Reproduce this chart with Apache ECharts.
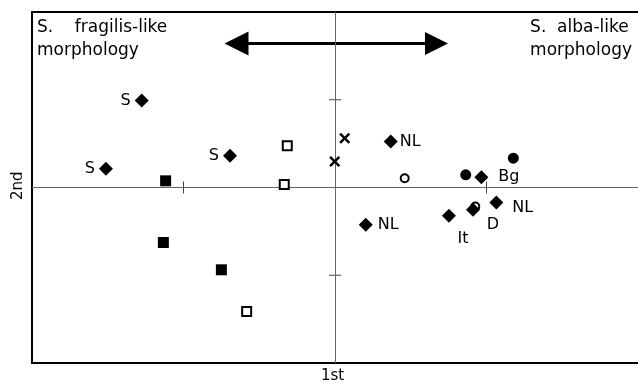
<!DOCTYPE html>
<html><head><meta charset="utf-8">
<script src="https://cdn.jsdelivr.net/npm/echarts@6/dist/echarts.min.js"></script>
<style>html,body{margin:0;padding:0;background:#fff}#c{width:638px;height:384px}</style>
</head><body><div id="c"></div>
<script>
// Data (ordination scores, axis units)
const diamondX = [-1.276, -1.512, -0.693, 0.368, 0.966, 0.203, 0.752, 0.911, 1.065];
const diamondY = [0.991, 0.213, 0.361, 0.524, 0.117, -0.425, -0.323, -0.254, -0.171];
const diamondLabels = ['S', 'S', 'S', 'NL', 'Bg', 'NL', 'It', 'D', 'NL'];
const filledCircleX = [1.177, 0.863];
const filledCircleY = [0.334, 0.145];
const openCircleX = [0.46, 0.926];
const openCircleY = [0.106, -0.217];
const crossX = [0.064, -0.002];
const crossY = [0.562, 0.296];
const filledSquareX = [-1.118, -1.133, -0.750];
const filledSquareY = [0.076, -0.627, -0.938];
const openSquareX = [-0.315, -0.335, -0.583];
const openSquareY = [0.475, 0.034, -1.413];
const tickValues = [-1, 1];
const arrowX = [-0.650, 0.670];
const arrowY = 1.64;
const xName = '1st', yName = '2nd';
const leftNote = ['S.    fragilis-like', 'morphology'];
const rightNote = ['S.  alba-like', 'morphology'];

// label placement (style only)
const labelStyle = [
  {position: 'left', distance: 4},
  {position: 'left', distance: 4},
  {position: 'left', distance: 4},
  {position: 'right', distance: 2},
  {position: 'right', distance: 10},
  {position: 'right', distance: 5},
  {position: 'bottom', offset: [14, 6], distance: 2},
  {position: 'bottom', offset: [20, -2], distance: 2},
  {position: 'right', distance: 9, offset: [0, 5]}
];

const zip = (xs, ys) => xs.map((x, i) => [x, ys[i]]);
const FONT = 'DejaVu Sans';
const crossPath = 'path://M0,1.6 L1.6,0 L5,3.4 L8.4,0 L10,1.6 L6.6,5 L10,8.4 L8.4,10 L5,6.6 L1.6,10 L0,8.4 L3.4,5 Z';
const solid = {color: '#000', opacity: 1};
const hollow = {color: '#fff', borderColor: '#000', borderWidth: 2, opacity: 1};
const frameAxis = {type: 'value', min: -2, max: 2,
  axisLine: {show: true, onZero: false, lineStyle: {color: '#000', width: 2}},
  axisTick: {show: false}, axisLabel: {show: false}, splitLine: {show: false}};

const chart = echarts.init(document.getElementById('c'), null, {renderer: 'canvas'});
chart.setOption({
  animation: false,
  backgroundColor: '#fff',
  grid: {left: 32, right: 0, top: 12, bottom: 21, show: false},
  xAxis: [Object.assign({position: 'bottom'}, frameAxis), Object.assign({position: 'top'}, frameAxis)],
  yAxis: [Object.assign({position: 'left'}, frameAxis)],
  graphic: [
    {type: 'text', left: 37, top: 16, style: {text: leftNote.join('\n'), font: '17px "' + FONT + '"', fill: '#000', lineHeight: 23}},
    {type: 'text', right: 6, top: 16, style: {text: rightNote.join('\n'), font: '17px "' + FONT + '"', fill: '#000', lineHeight: 23, align: 'right'}},
    {type: 'text', left: 335 - 14, top: 369, style: {text: xName, font: '15px "' + FONT + '"', fill: '#000'}},
    {type: 'text', x: 11, y: 200, rotation: Math.PI / 2, style: {text: yName, font: '15px "' + FONT + '"', fill: '#000'}}
  ],
  series: [
    {type: 'scatter', symbol: 'rect', symbolSize: [1, 12], itemStyle: {color: '#444', opacity: 1}, z: 1,
      data: tickValues.map(v => [v, 0]),
      markLine: {silent: true, symbol: 'none', label: {show: false},
        lineStyle: {color: '#666', width: 1, type: 'solid'},
        data: [{xAxis: 0}, {yAxis: 0}]}},
    {type: 'scatter', symbol: 'rect', symbolSize: [12, 1], itemStyle: {color: '#444', opacity: 1}, z: 1,
      data: tickValues.map(v => [0, v])},
    {type: 'lines', coordinateSystem: 'cartesian2d', z: 3,
      symbol: ['path://M5,0L10,10L0,10Z', 'path://M5,0L10,10L0,10Z'], symbolSize: [24, 23],
      lineStyle: {color: '#000', width: 3, opacity: 1},
      data: [{coords: [[arrowX[0], arrowY], [arrowX[1], arrowY]]}]},
    {type: 'scatter', symbol: 'circle', symbolSize: 8, z: 4, itemStyle: hollow,
      data: zip(openCircleX, openCircleY)},
    {type: 'scatter', symbol: 'diamond', symbolSize: [14, 14], z: 5, itemStyle: solid,
      data: diamondX.map((x, i) => ({value: [x, diamondY[i]], label: Object.assign({show: true, formatter: diamondLabels[i]}, labelStyle[i])})),
      label: {color: '#000', fontFamily: FONT, fontSize: 16}},
    {type: 'scatter', symbol: 'circle', symbolSize: 11, z: 5, itemStyle: solid,
      data: zip(filledCircleX, filledCircleY)},
    {type: 'scatter', symbol: crossPath, symbolSize: 11, z: 5, itemStyle: solid,
      data: zip(crossX, crossY)},
    {type: 'scatter', symbol: 'rect', symbolSize: 11, z: 5, itemStyle: solid,
      data: zip(filledSquareX, filledSquareY)},
    {type: 'scatter', symbol: 'rect', symbolSize: 9, z: 5, itemStyle: hollow,
      data: zip(openSquareX, openSquareY)}
  ]
});
</script></body></html>
